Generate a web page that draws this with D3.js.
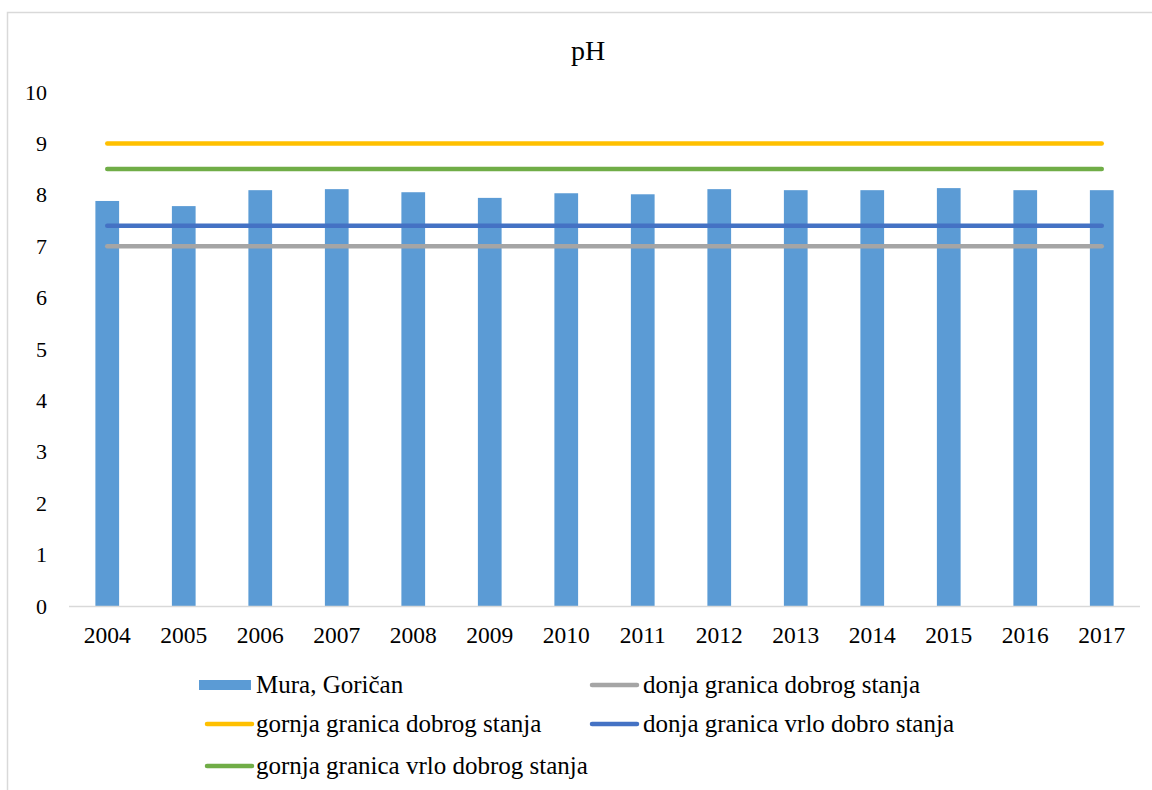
<!DOCTYPE html>
<html><head><meta charset="utf-8">
<script src="https://cdn.jsdelivr.net/npm/d3@7"></script>
<style>body{margin:0;background:#fff}svg{display:block}text{font-family:"Liberation Serif","Times New Roman",serif;fill:#000}</style>
</head><body><svg id="c" width="1152" height="790"></svg>
<script>
const years = ["2004","2005","2006","2007","2008","2009","2010","2011","2012","2013","2014","2015","2016","2017"];
const muraValues = [7.88,7.78,8.09,8.11,8.05,7.94,8.03,8.01,8.11,8.09,8.09,8.13,8.09,8.09];
const donjaDobrog = 7.0;
const gornjaDobrog = 9.0;
const donjaVrloDobro = 7.4;
const gornjaVrloDobrog = 8.5;
const yTicks = [0,1,2,3,4,5,6,7,8,9,10];

const svg = d3.select("#c");
svg.append("path").attr("d","M7.5,790 V12.5 H1152").attr("fill","none").attr("stroke","#d9d9d9").attr("stroke-width",1.5);

const x = d3.scaleBand().domain(years).range([69,1140]).paddingInner(0.69).paddingOuter(0.345);
const y = d3.scaleLinear().domain([0,10]).range([606,92]);

svg.append("text").attr("x",588).attr("y",60).attr("text-anchor","middle").style("font-size","28px").text("pH");

svg.append("g").selectAll("text").data(yTicks).join("text")
  .attr("x",47).attr("y",d=>y(d)+7.5).attr("text-anchor","end").style("font-size","22px").text(d=>d);

svg.append("g").selectAll("rect").data(muraValues).join("rect")
  .attr("x",(d,i)=>x(years[i])).attr("width",x.bandwidth())
  .attr("y",d=>y(d)).attr("height",d=>y(0)-y(d)).attr("fill","#5b9bd5");

svg.append("line").attr("x1",69).attr("x2",1140).attr("y1",606.5).attr("y2",606.5).attr("stroke","#d9d9d9").attr("stroke-width",1.5);

svg.append("g").selectAll("text").data(years).join("text")
  .attr("x",d=>x(d)+x.bandwidth()/2).attr("y",643).attr("text-anchor","middle").style("font-size","23.5px").text(d=>d);

const lines = [
  {name:"donja granica dobrog stanja", v:donjaDobrog, c:"#a5a5a5"},
  {name:"gornja granica dobrog stanja", v:gornjaDobrog, c:"#ffc000"},
  {name:"donja granica vrlo dobro stanja", v:donjaVrloDobro, c:"#4472c4"},
  {name:"gornja granica vrlo dobrog stanja", v:gornjaVrloDobrog, c:"#70ad47"}
];
const lineGen = d3.line().x(d=>x(d[0])+x.bandwidth()/2).y(d=>y(d[1]));
lines.forEach(l=>{
  svg.append("path").attr("d",lineGen(years.map(yr=>[yr,l.v])))
    .attr("fill","none").attr("stroke",l.c).attr("stroke-width",4.5).attr("stroke-linecap","round");
});

const leg = svg.append("g");
leg.append("rect").attr("x",199).attr("y",680).attr("width",52).attr("height",10).attr("fill","#5b9bd5");
leg.append("text").attr("x",256).attr("y",693).style("font-size","25px").text("Mura, Goričan");
const legPos = [
  {l:lines[0], sx:592, tx:643, y:685},
  {l:lines[1], sx:207, tx:256, y:724},
  {l:lines[2], sx:592, tx:643, y:724},
  {l:lines[3], sx:207, tx:256, y:766}
];
legPos.forEach(p=>{
  leg.append("line").attr("x1",p.sx).attr("x2",p.sx+45).attr("y1",p.y).attr("y2",p.y)
    .attr("stroke",p.l.c).attr("stroke-width",4.5).attr("stroke-linecap","round");
  leg.append("text").attr("x",p.tx).attr("y",p.y+8).style("font-size","25px").text(p.l.name);
});
</script></body></html>
